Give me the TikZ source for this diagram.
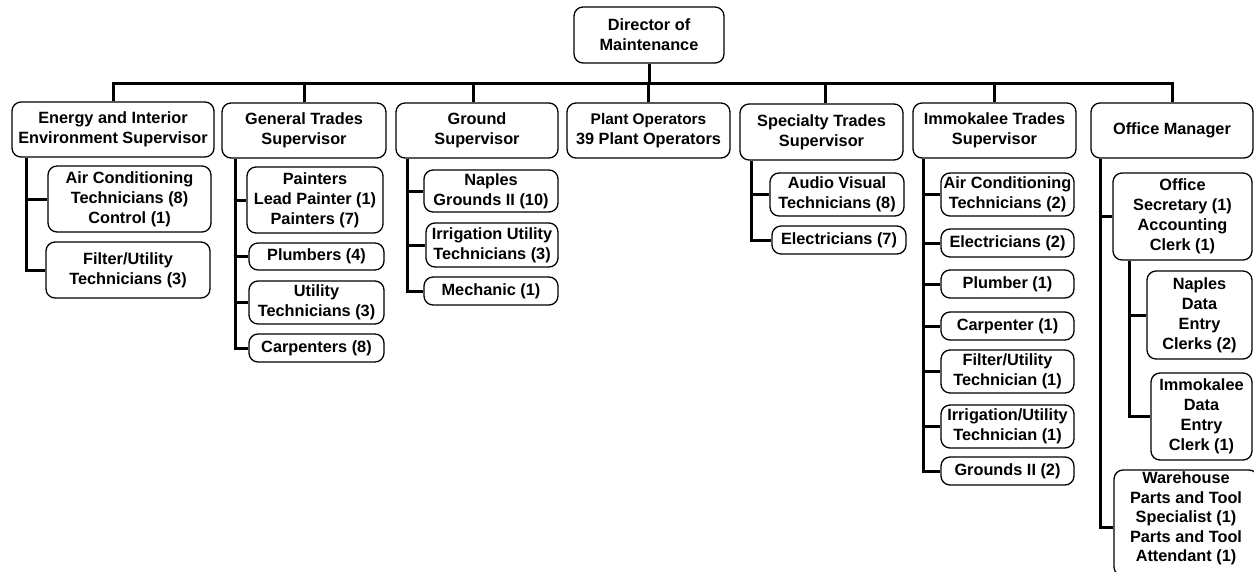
\documentclass[tikz,border=0pt]{standalone}
\usepackage{fontspec}
\setmainfont{Liberation Sans}
\tikzset{
  unit/.style={draw=black, line width=1.3pt, rounded corners=9pt, align=center,
    inner sep=0pt, fill=white, font=\bfseries\fontsize{16.3}{20}\selectfont},
  link/.style={draw=black, line width=3pt}
}
% \orgbox{name}{left}{top}{right}{bottom}{text}
\newcommand\orgbox[6]{%
  \node[unit, minimum width={#4-#2}, minimum height={#5-#3}] (#1)
    at ({(#2+#4)/2},{(#3+#5)/2}) {#6};}
\begin{document}
\begin{tikzpicture}[x=1pt, y=-1pt]
\useasboundingbox[fill=white] (0,0) rectangle (1254,571);
\clip (0,0) rectangle (1254,571);

% top level
\orgbox{dir}{574}{7}{724}{63}{Director of\\Maintenance}

% supervisors
\orgbox{E}{12}{102}{214}{157}{Energy and Interior\\Environment Supervisor}
\orgbox{G}{222}{103}{386}{158}{General Trades\\Supervisor}
\orgbox{R}{396}{103}{558}{158}{Ground\\Supervisor}
\orgbox{P}{567}{103}{730}{158}{\fontsize{15.4}{19.5}\selectfont Plant Operators\\39 Plant Operators}
\orgbox{S}{740}{104}{903}{160}{Specialty Trades\\Supervisor}
\orgbox{I}{913}{103}{1076}{158}{Immokalee Trades\\Supervisor}
\orgbox{O}{1091}{103}{1253}{158}{Office Manager}

% energy and interior environment
\orgbox{e1}{48}{166}{211}{232}{Air Conditioning\\Technicians (8)\\Control (1)}
\orgbox{e2}{46}{242}{210}{298}{Filter/Utility\\Technicians (3)}

% general trades
\orgbox{g1}{247}{167}{383}{233}{Painters\\Lead Painter (1)\\Painters (7)}
\orgbox{g2}{249}{243}{384}{270}{Plumbers (4)}
\orgbox{g3}{249}{281}{384}{324}{Utility\\Technicians (3)}
\orgbox{g4}{249}{334}{384}{362}{Carpenters (8)}

% grounds
\orgbox{r1}{424}{170}{558}{212}{Naples\\Grounds II (10)}
\orgbox{r2}{426}{223}{558}{267}{Irrigation Utility\\Technicians (3)}
\orgbox{r3}{424}{277}{558}{305}{Mechanic (1)}

% specialty trades
\orgbox{s1}{770}{173}{904}{216}{Audio Visual\\Technicians (8)}
\orgbox{s2}{772}{226}{906}{254}{Electricians (7)}

% immokalee trades
\orgbox{i1}{941}{173}{1074}{216}{Air Conditioning\\Technicians (2)}
\orgbox{i2}{941}{229}{1074}{257}{Electricians (2)}
\orgbox{i3}{941}{270}{1074}{298}{Plumber (1)}
\orgbox{i4}{941}{312}{1074}{340}{Carpenter (1)}
\orgbox{i5}{941}{350}{1074}{393}{Filter/Utility\\Technician (1)}
\orgbox{i6}{941}{405}{1074}{448}{Irrigation/Utility\\Technician (1)}
\orgbox{i7}{941}{457}{1074}{485}{Grounds II (2)}

% office
\orgbox{o1}{1113}{173}{1252}{260}{Office\\Secretary (1)\\Accounting\\Clerk (1)}
\orgbox{o2}{1147}{271}{1252}{359}{Naples\\Data\\Entry\\Clerks (2)}
\orgbox{o3}{1151}{373}{1252}{460}{Immokalee\\Data\\Entry\\Clerk (1)}
% warehouse box runs past the lower edge; its text sits a little above centre
\node[unit, minimum width=144pt, minimum height=106pt,
  label={[font=\bfseries\fontsize{16.3}{19.6}\selectfont, align=center, yshift=4.5pt]center:%
    Warehouse\\Parts and Tool\\Specialist (1)\\Parts and Tool\\Attendant (1)}]
  (o4) at (1186,523) {};

% main bus
\coordinate (bus) at (0,83);
\draw[link] (dir.south) -- (dir.south |- bus);
\draw[link] (E.north) -- (E.north |- bus) -- (O.north |- bus) -- (O.north);
\foreach \n in {G,P,I}
  \draw[link] (\n.north) -- (\n.north |- bus);
\draw[link] ([xshift=-4pt]R.north) -- ([xshift=-4pt]R.north |- bus);
\draw[link] ([xshift=3.5pt]S.north) -- ([xshift=3.5pt]S.north |- bus);

% branch spines
\coordinate (eS) at (26,0);
\coordinate (gS) at (235,0);
\coordinate (rS) at (407,0);
\coordinate (sS) at (751,0);
\coordinate (iS) at (923,0);
\coordinate (oS) at (1100,0);
\coordinate (oT) at (1129,0);

\draw[link] (eS |- E.south) |- (e2.west);
\draw[link] (eS |- e1.west) -- (e1.west);

\draw[link] (gS |- G.south) |- (g4.west);
\foreach \c in {g1,g2,g3} \draw[link] (gS |- \c.west) -- (\c.west);

\draw[link] (rS |- R.south) |- (r3.west);
\foreach \c in {r1,r2} \draw[link] (rS |- \c.west) -- (\c.west);

\draw[link] (sS |- S.south) |- (s2.west);
\draw[link] (sS |- s1.west) -- (s1.west);

\draw[link] (iS |- I.south) |- (i7.west);
\foreach \c in {i1,i2,i3,i4,i5,i6} \draw[link] (iS |- \c.west) -- (\c.west);

\draw[link] (oS |- O.south) |- ([yshift=-4pt]o4.west);
\draw[link] (oS |- o1.west) -- (o1.west);
\draw[link] (oT |- o1.south) |- (o3.west);
\draw[link] (oT |- o2.west) -- (o2.west);
\end{tikzpicture}
\end{document}
